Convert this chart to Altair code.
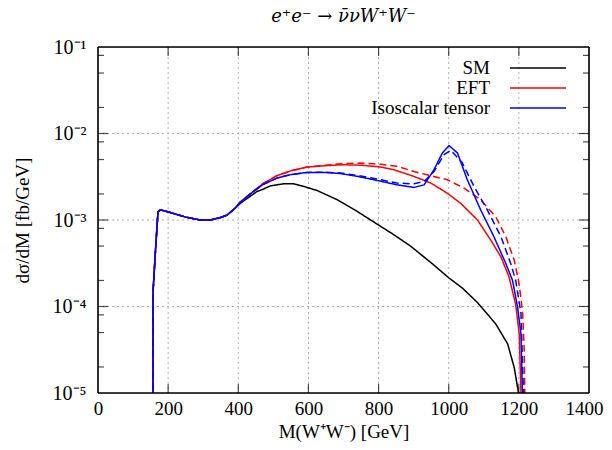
import altair as alt
import pandas as pd

# ---------------- data ----------------
head_x = [156.5, 157, 164, 171, 178, 206, 250, 291, 320, 350, 368, 390]
head_y = [1e-7, 1.5e-4, 4.5e-4, 1.24e-3, 1.31e-3, 1.22e-3, 1.08e-3, 1.0e-3, 1.0e-3, 1.07e-3, 1.14e-3, 1.36e-3]

sm_x = [406, 430, 453, 470, 491, 529, 557, 590, 625, 683, 740, 786, 840, 891, 950, 1000, 1040, 1082, 1134, 1168, 1187, 1199, 1203]
sm_y = [1.56e-3, 1.83e-3, 2.13e-3, 2.26e-3, 2.48e-3, 2.62e-3, 2.62e-3, 2.42e-3, 2.19e-3, 1.71e-3, 1.25e-3, 9.5e-4, 6.9e-4,
        5.0e-4, 3.2e-4, 2.15e-4, 1.62e-4, 1.11e-4, 6.3e-5, 3.7e-5, 1.95e-5, 1.0e-5, 1e-7]

eft_x = [406, 430, 470, 510, 550, 596, 650, 700, 750, 806, 844, 901, 949, 996, 1034, 1082, 1120, 1149, 1172, 1191, 1201, 1206, 1209]
eft_y = [1.62e-3, 1.94e-3, 2.63e-3, 3.25e-3, 3.7e-3, 4.09e-3, 4.25e-3, 4.35e-3, 4.3e-3, 4.1e-3, 3.81e-3, 3.19e-3, 2.67e-3,
         2.04e-3, 1.56e-3, 1.0e-3, 5.85e-4, 3.74e-4, 2.2e-4, 1.05e-4, 4.85e-5, 1.0e-5, 1e-7]

eftd_x = [406, 430, 470, 510, 550, 596, 650, 700, 750, 806, 853, 901, 949, 996, 1044, 1091, 1134, 1163, 1187, 1199, 1206, 1211, 1215, 1217, 1220]
eftd_y = [1.62e-3, 1.94e-3, 2.63e-3, 3.25e-3, 3.7e-3, 4.09e-3, 4.3e-3, 4.5e-3, 4.55e-3, 4.4e-3, 4.17e-3, 3.63e-3, 3.25e-3,
          2.92e-3, 2.33e-3, 1.71e-3, 1.09e-3, 6.4e-4, 3.4e-4, 2.0e-4, 1.25e-4, 8e-5, 3.4e-5, 1.0e-5, 1e-7]

iso_x = [406, 430, 470, 510, 550, 596, 644, 690, 739, 790, 853, 901, 930, 958, 982, 1001, 1025, 1053, 1091, 1129, 1163, 1182, 1196, 1206, 1210, 1213]
iso_y = [1.6e-3, 1.94e-3, 2.57e-3, 3.05e-3, 3.35e-3, 3.55e-3, 3.55e-3, 3.45e-3, 3.2e-3, 2.9e-3, 2.55e-3, 2.38e-3, 2.55e-3,
         3.81e-3, 5.96e-3, 7.24e-3, 5.96e-3, 2.92e-3, 1.31e-3, 6.4e-4, 3.13e-4, 2.0e-4, 1.0e-4, 4.85e-5, 1.0e-5, 1e-7]

isod_x = [406, 430, 470, 510, 550, 596, 644, 690, 739, 806, 853, 901, 930, 958, 987, 1006, 1039, 1072, 1110, 1149, 1177, 1191, 1206, 1213, 1216]
isod_y = [1.6e-3, 1.94e-3, 2.57e-3, 3.05e-3, 3.35e-3, 3.55e-3, 3.57e-3, 3.5e-3, 3.28e-3, 2.92e-3, 2.67e-3, 2.62e-3, 2.79e-3,
          3.63e-3, 5.7e-3, 6.4e-3, 4.56e-3, 2.45e-3, 1.31e-3, 6.4e-4, 3.13e-4, 2.0e-4, 8.4e-5, 1.0e-5, 1e-7]

models = ["SM", "EFT", "Isoscalar tensor"]
colors = ["#000000", "#ff0000", "#0000ff"]
variants = ["solid", "dashed"]
title_text = "e⁺e⁻ → ν̄νW⁺W⁻"

x_major = [0, 200, 400, 600, 800, 1000, 1200, 1400]
y_major = [1e-5, 1e-4, 1e-3, 1e-2, 1e-1]
y_minor = [m * d for d in [1e-5, 1e-4, 1e-3, 1e-2] for m in (2, 5, 8)]

# ---------------- build table ----------------
rows = []
def add(model, variant, xs, ys):
    for xv, yv in zip(head_x + xs, head_y + ys):
        rows.append({"x": xv, "y": yv, "model": model, "variant": variant,
                     "series": model + "-" + variant})

add("SM", "solid", sm_x, sm_y)
add("EFT", "solid", eft_x, eft_y)
add("EFT", "dashed", eftd_x, eftd_y)
add("Isoscalar tensor", "solid", iso_x, iso_y)
add("Isoscalar tensor", "dashed", isod_x, isod_y)
df = pd.DataFrame(rows)

FONT = "Liberation Serif"
W, H = 491, 346

xscale = alt.Scale(domain=[0, 1400], nice=False, zero=False)
yscale = alt.Scale(type="log", domain=[1e-5, 1e-1], nice=False)

label_expr = "'10' + ['⁻¹','⁻²','⁻³','⁻⁴','⁻⁵'][round(-log(datum.value)/LN10) - 1]"

# interior dotted grid lines
GRID = "#b0b0b0"
ygrid = alt.Chart(pd.DataFrame({"gy": y_major[1:-1]})).mark_rule(
    color=GRID, strokeWidth=1, strokeDash=[2, 3]).encode(y=alt.Y("gy:Q", scale=yscale))
xgrid = alt.Chart(pd.DataFrame({"gx": x_major[1:-1]})).mark_rule(
    color=GRID, strokeWidth=1, strokeDash=[2, 3]).encode(x=alt.X("gx:Q", scale=xscale))

lines = alt.Chart(df).mark_line(strokeWidth=1.5, clip=True).encode(
    x=alt.X("x:Q", scale=xscale, axis=alt.Axis(
        values=x_major, format="d", grid=False,
        ticks=False, tickSize=0, domain=False, labelFont=FONT, labelFontSize=19,
        labelColor="#000", labelPadding=6, labelFlush=False,
        labelOffset={"condition": {"test": "datum.value == 1400", "value": -5}, "value": 0},
        title="M(W⁺W⁻) [GeV]", titleFont=FONT, titleFontSize=19, titleFontWeight="normal",
        titleColor="#000", titleY=38, titleBaseline="middle")),
    y=alt.Y("y:Q", scale=yscale, axis=alt.Axis(
        values=y_major, grid=False,
        ticks=False, tickSize=0, domain=False, labelFont=FONT, labelFontSize=20,
        labelColor="#000", labelPadding=12, labelExpr=label_expr, labelFlush=False,
        title="dσ/dM  [fb/GeV]", titleFont=FONT, titleFontSize=19, titleFontWeight="normal",
        titleColor="#000", titleX=-76, titleY=H / 2, titleBaseline="middle")),
    color=alt.Color("model:N", scale=alt.Scale(domain=models, range=colors), legend=None),
    strokeDash=alt.StrokeDash("variant:N", scale=alt.Scale(domain=variants, range=[[1, 0], [7, 4]]), legend=None),
    detail="series:N",
)

# inward tick marks on all four sides
TICK = "#000000"
ymaj_df = pd.DataFrame({"ty": y_major[1:-1]})
ymin_df = pd.DataFrame({"ty": y_minor})
xmaj_df = pd.DataFrame({"tx": x_major[1:-1]})

def yticks(d, xpos, length):
    return alt.Chart(d).mark_tick(color=TICK, thickness=1.2, size=length, orient="horizontal").encode(
        y=alt.Y("ty:Q", scale=yscale), x=alt.value(xpos))

def xticks(d, ypos, length):
    return alt.Chart(d).mark_tick(color=TICK, thickness=1.2, size=length, orient="vertical").encode(
        x=alt.X("tx:Q", scale=xscale), y=alt.value(ypos))

ticks = [
    yticks(ymaj_df, 5, 10), yticks(ymaj_df, W - 5, 10),
    yticks(ymin_df, 3, 6), yticks(ymin_df, W - 3, 6),
    xticks(xmaj_df, H - 4.5, 9), xticks(xmaj_df, 4.5, 9),
]

one = pd.DataFrame({"t": [title_text]})
FRAME = "#000000"
frame = [
    alt.Chart(one).mark_rule(color=FRAME, strokeWidth=1.6).encode(x=alt.value(0), x2=alt.value(W), y=alt.value(0)),
    alt.Chart(one).mark_rule(color=FRAME, strokeWidth=1.6).encode(x=alt.value(0), x2=alt.value(W), y=alt.value(H)),
    alt.Chart(one).mark_rule(color=FRAME, strokeWidth=1.6).encode(y=alt.value(0), y2=alt.value(H), x=alt.value(0)),
    alt.Chart(one).mark_rule(color=FRAME, strokeWidth=1.6).encode(y=alt.value(0), y2=alt.value(H), x=alt.value(W)),
]

title = alt.Chart(one).mark_text(font="DejaVu Serif", fontSize=18, fontStyle="italic", align="center",
                                 baseline="alphabetic", color="#000").encode(
    x=alt.value(W / 2), y=alt.value(-25), text="t:N")

# manual legend (text right-aligned, line sample to its right)
leg_layers = []
for i, (m, c) in enumerate(zip(models, colors)):
    ly = 21 + 20 * i
    ldf = pd.DataFrame({"label": [m]})
    leg_layers.append(alt.Chart(ldf).mark_text(
        align="right", baseline="middle", font=FONT, fontSize=19, color="#000").encode(
        x=alt.value(392), y=alt.value(ly), text="label:N"))
    leg_layers.append(alt.Chart(ldf).mark_rule(color=c, strokeWidth=1.5).encode(
        x=alt.value(412), x2=alt.value(468), y=alt.value(ly)))

chart = alt.layer(ygrid, xgrid, lines, *ticks, *frame, title, *leg_layers).properties(
    width=W, height=H,
    autosize=alt.AutoSizeParams(type="none"),
    padding={"left": 90, "top": 39, "right": 15, "bottom": 49},
).configure_view(stroke="#000", strokeWidth=1.5).configure(background="white")

chart.save("out.html", embed_options={"renderer": "svg", "actions": False})
